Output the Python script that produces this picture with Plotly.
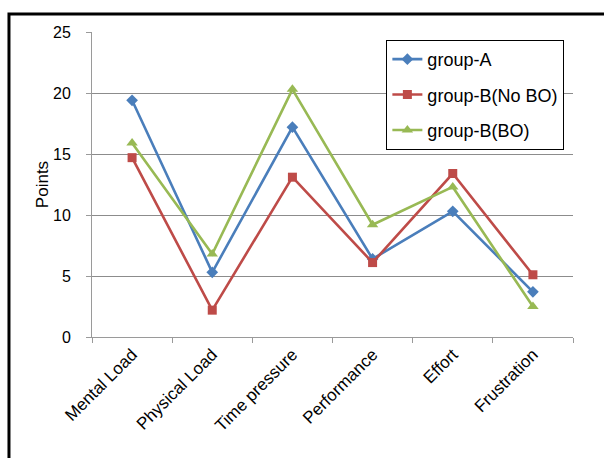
import plotly.graph_objects as go

categories = ["Mental Load", "Physical Load", "Time pressure", "Performance", "Effort", "Frustration"]
group_a = [19.4, 5.3, 17.2, 6.4, 10.3, 3.7]
group_b_no_bo = [14.7, 2.2, 13.1, 6.1, 13.4, 5.1]
group_b_bo = [15.9, 6.8, 20.3, 9.2, 12.3, 2.5]
y_ticks = [0, 5, 10, 15, 20, 25]

series = [
    ("group-A", group_a, "#4A7EBB", "diamond", 9),
    ("group-B(No BO)", group_b_no_bo, "#BE4B48", "square", 9),
    ("group-B(BO)", group_b_bo, "#98B954", "triangle-up", 10),
]

FONT = "Liberation Sans, Arial, sans-serif"

fig = go.Figure()
for i, (name, vals, color, symbol, size) in enumerate(series):
    fig.add_trace(go.Scatter(
        x=categories, y=vals, name=name, mode="lines+markers",
        legendgroup=f"g{i}",
        line=dict(color=color, width=2.6),
        marker=dict(symbol=symbol, size=size, color=color),
    ))

fig.update_layout(
    width=604, height=458,
    margin=dict(l=92, r=31, t=32, b=121),
    paper_bgcolor="white", plot_bgcolor="white",
    font=dict(family=FONT, color="#000000", size=15),
    showlegend=True,
    legend=dict(
        x=0.612, y=0.974, xanchor="left", yanchor="top",
        bgcolor="white", bordercolor="#000000", borderwidth=1,
        font=dict(size=18, family=FONT),
        traceorder="grouped", tracegroupgap=9,
    ),
    xaxis=dict(
        type="category", range=[-0.5, 5.5],
        tickson="boundaries", ticks="outside", ticklen=5,
        tickcolor="#9a9a9a", showline=True, linecolor="#9a9a9a", linewidth=1,
        showgrid=False, tickangle=-45, tickfont=dict(size=17),
    ),
    yaxis=dict(
        range=[0, 25], tickvals=y_ticks, ticks="outside", ticklen=5,
        tickcolor="#9a9a9a", showline=True, linecolor="#9a9a9a", linewidth=1,
        showgrid=True, gridcolor="#8c8c8c", gridwidth=1, zeroline=False,
        ticklabelstandoff=12, tickfont=dict(size=16),
        title=dict(text="Points", font=dict(size=17), standoff=0),
    ),
    shapes=[
        dict(type="rect", xref="paper", yref="paper",
             x0=-0.1726, x1=1.12, y0=-0.5, y1=1.059,
             line=dict(color="#000000", width=3), fillcolor="rgba(0,0,0,0)",
             layer="below"),
    ],
)

fig.write_html("out.html")
